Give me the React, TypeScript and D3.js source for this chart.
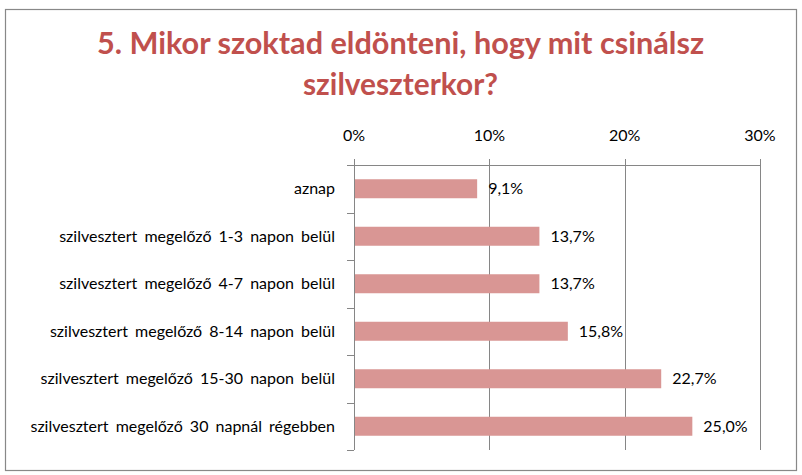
import { FunctionComponent, useRef, useEffect } from "react";
import * as d3 from "d3";

const titleLines: string[] = ["5. Mikor szoktad eldönteni, hogy mit csinálsz", "szilveszterkor?"];

const categories: string[] = [
    "aznap",
    "szilvesztert megelőző 1-3 napon belül",
    "szilvesztert megelőző 4-7 napon belül",
    "szilvesztert megelőző 8-14 napon belül",
    "szilvesztert megelőző 15-30 napon belül",
    "szilvesztert megelőző 30 napnál régebben",
];

const values: number[] = [9.1, 13.7, 13.7, 15.8, 22.7, 25.0];

const tickValues: number[] = [0, 10, 20, 30];

const width = 802;
const height = 475;

const App: FunctionComponent = () => {
    const container = useRef<SVGSVGElement>(null);

    useEffect(draw, []);

    function draw() {
        if (!container.current) return;
        const svg = d3.select(container.current);
        svg.selectAll("*").remove();

        const font = "Lato, 'Open Sans', sans-serif";
        const gridColor = "#868686";

        // chart border
        svg.append("rect")
            .attr("x", 5.5)
            .attr("y", 9.5)
            .attr("width", 791)
            .attr("height", 461)
            .attr("fill", "white")
            .attr("stroke", "#888888")
            .attr("stroke-width", 1.2);

        // title
        const titleY = [54, 95];
        const titleW = [607, 195];
        svg.selectAll("text.title")
            .data(titleLines)
            .join("text")
            .attr("class", "title")
            .attr("x", 400.5)
            .attr("y", (d, i) => titleY[i])
            .attr("text-anchor", "middle")
            .attr("font-family", font)
            .attr("font-weight", "bold")
            .attr("font-size", 30)
            .attr("fill", "#C0504D")
            .attr("textLength", (d, i) => titleW[i])
            .attr("lengthAdjust", "spacingAndGlyphs")
            .text(d => d);

        const x = d3.scaleLinear().domain([0, 30]).range([354, 760]);
        const y = d3.scaleBand<string>()
            .domain(categories)
            .range([165, 450])
            .paddingInner(0.6)
            .paddingOuter(0.3);

        const g = svg.append("g");

        // vertical gridlines (with outside tick on top)
        g.selectAll("line.grid")
            .data(tickValues)
            .join("line")
            .attr("class", "grid")
            .attr("x1", d => Math.round(x(d)) + 0.5)
            .attr("x2", d => Math.round(x(d)) + 0.5)
            .attr("y1", 159)
            .attr("y2", 450)
            .attr("stroke", gridColor)
            .attr("stroke-width", 1);

        // top axis line
        g.append("line")
            .attr("x1", x(0))
            .attr("x2", x(30) + 1)
            .attr("y1", 165.5)
            .attr("y2", 165.5)
            .attr("stroke", gridColor);

        // tick labels
        g.selectAll("text.tick")
            .data(tickValues)
            .join("text")
            .attr("class", "tick")
            .attr("x", d => x(d))
            .attr("y", 141)
            .attr("text-anchor", "middle")
            .attr("font-family", font)
            .attr("font-size", 16)
            .attr("fill", "#000")
            .text(d => d + "%");

        // category boundary ticks on left axis
        const boundaries = categories.map(c => (y(c) as number) - y.step() * 0.3).concat([450]);
        g.selectAll("line.ctick")
            .data(boundaries)
            .join("line")
            .attr("class", "ctick")
            .attr("x1", 347)
            .attr("x2", x(0))
            .attr("y1", d => Math.round(d) + 0.5)
            .attr("y2", d => Math.round(d) + 0.5)
            .attr("stroke", gridColor);

        // bars
        g.selectAll("rect.bar")
            .data(values)
            .join("rect")
            .attr("class", "bar")
            .attr("x", x(0) + 1)
            .attr("y", (d, i) => y(categories[i]) as number)
            .attr("width", d => x(d) - x(0) - 1)
            .attr("height", y.bandwidth())
            .attr("fill", "#D99694");

        // value labels
        const fmt = d3.format(".1f");
        g.selectAll("text.value")
            .data(values)
            .join("text")
            .attr("class", "value")
            .attr("x", d => x(d) + 11)
            .attr("y", (d, i) => (y(categories[i]) as number) + y.bandwidth() / 2)
            .attr("dy", "0.35em")
            .attr("font-family", font)
            .attr("font-size", 16)
            .attr("fill", "#000")
            .text(d => fmt(d).replace(".", ",") + "%");

        // category labels
        g.selectAll("text.cat")
            .data(categories)
            .join("text")
            .attr("class", "cat")
            .attr("x", 335)
            .attr("y", d => (y(d) as number) + y.bandwidth() / 2)
            .attr("dy", "0.35em")
            .attr("text-anchor", "end")
            .attr("font-family", font)
            .attr("font-size", 16)
            .attr("word-spacing", 3)
            .attr("fill", "#000")
            .text(d => d);
    }

    return (
        <svg
            width={width}
            height={height}
            ref={container}
            style={{ position: "absolute", left: 0, top: 0, background: "white" }}
        />
    );
};

export default App;
